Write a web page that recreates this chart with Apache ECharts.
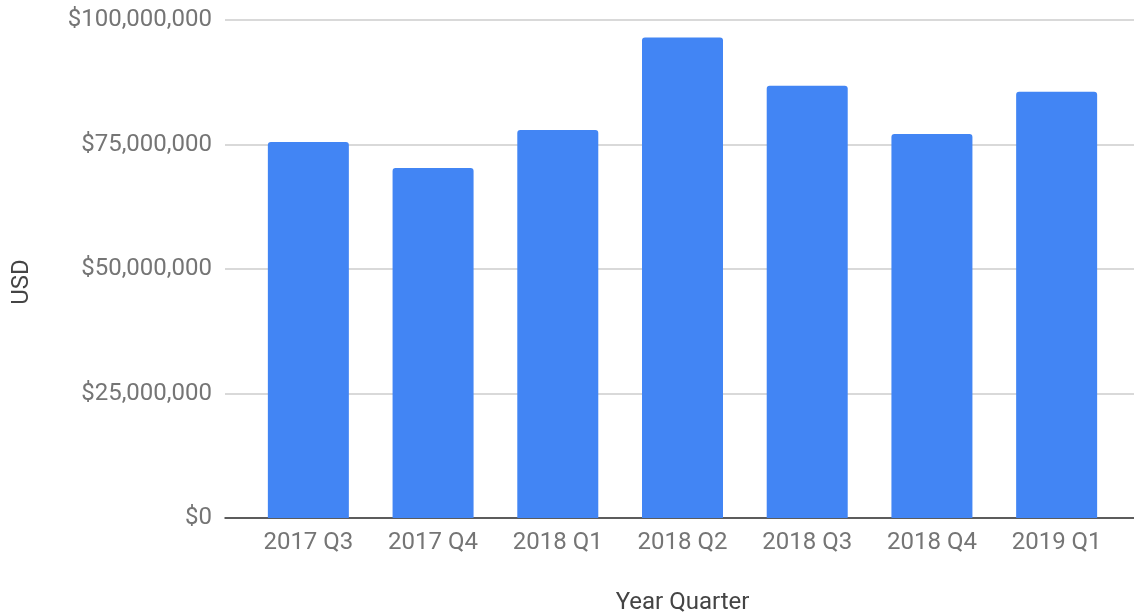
<!DOCTYPE html>
<html>
<head>
<meta charset="utf-8">
<script src="https://cdn.jsdelivr.net/npm/echarts@6/dist/echarts.min.js"></script>
<style>
html,body{margin:0;padding:0;background:#fff;}
#chart{width:1134px;height:616px;}
</style>
</head>
<body>
<div id="chart"></div>
<script>
var categories = ['2017 Q3','2017 Q4','2018 Q1','2018 Q2','2018 Q3','2018 Q4','2019 Q1'];
var revenue = [75500000, 70300000, 77900000, 96500000, 86800000, 77100000, 85600000];
var yTicks = [0, 25000000, 50000000, 75000000, 100000000];
var xTitle = 'Year Quarter';
var yTitle = 'USD';

function fmtUSD(v){
  return '$' + String(Math.round(v)).replace(/\B(?=(\d{3})+(?!\d))/g, ',');
}

var chart = echarts.init(document.getElementById('chart'), null, {renderer:'canvas'});
var font = 'Roboto';
var opt = {
  animation:false,
  backgroundColor:'#ffffff',
  grid:[
    {left:225, right:0, top:20, bottom:98, containLabel:false, outerBoundsMode:'none'},
    {left:246, right:15, top:20, bottom:98, containLabel:false, outerBoundsMode:'none'}
  ],
  xAxis:[
    {type:'category', gridIndex:0, data:categories,
     axisLine:{show:true, lineStyle:{color:'#333333', width:1.5}},
     axisTick:{show:false}, axisLabel:{show:false}, splitLine:{show:false}},
    {type:'category', gridIndex:1, data:categories,
     axisLine:{show:false}, axisTick:{show:false},
     axisLabel:{color:'#757575', fontFamily:font, fontSize:24, margin:13},
     name:xTitle, nameLocation:'middle', nameGap:73,
     nameTextStyle:{color:'#444444', fontFamily:font, fontSize:24}}
  ],
  yAxis:[
    {type:'value', gridIndex:0, min:yTicks[0], max:yTicks[yTicks.length-1], interval:yTicks[1]-yTicks[0],
     axisLine:{show:false}, axisTick:{show:false},
     axisLabel:{color:'#757575', fontFamily:font, fontSize:24, margin:13, formatter:fmtUSD},
     splitLine:{show:true, lineStyle:{color:'#cccccc', width:1.5}},
     name:yTitle, nameLocation:'middle', nameGap:191, nameRotate:90,
     nameTextStyle:{color:'#444444', fontFamily:font, fontSize:24, padding:[0,26,0,0]}},
    {type:'value', gridIndex:1, min:yTicks[0], max:yTicks[yTicks.length-1], interval:yTicks[1]-yTicks[0],
     show:false}
  ],
  series:[{
    type:'bar', xAxisIndex:1, yAxisIndex:1, data:revenue, barWidth:81,
    itemStyle:{color:'#4285f4', borderRadius:[3,3,0,0]}
  }]
};
chart.setOption(opt);
</script>
</body>
</html>
